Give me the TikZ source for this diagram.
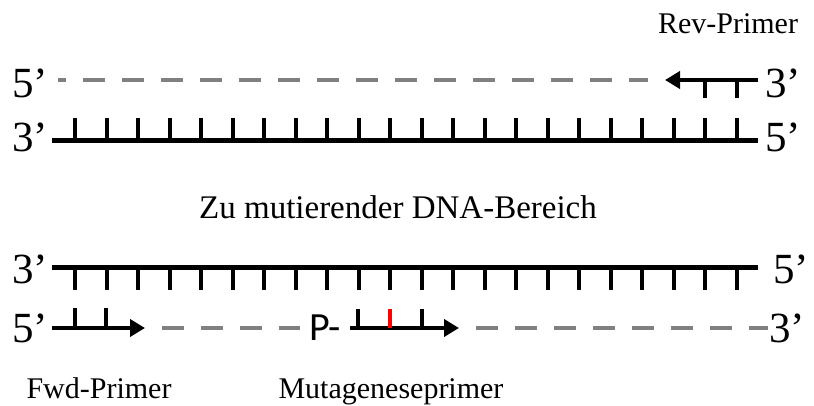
\documentclass[tikz,border=0pt]{standalone}
\usepackage{fontspec}
\setmainfont{Liberation Serif}
\newfontfamily\phosfont{Carlito}
\usetikzlibrary{arrows.meta}

\begin{document}
\begin{tikzpicture}[x=1pt, y=-1pt]
\tikzset{
    strand/.style={line width=5pt},
    newstrand/.style={line width=4.5pt, draw=gray, dash pattern=on 21.5pt off 17.5pt},
    primer/.style={line width=4.5pt, -{Triangle[length=15pt, width=17pt]}},
    basepair/.style={line width=4pt},
    endlabel/.style={inner sep=0pt, anchor=base west, font=\fontsize{43}{45}\selectfont},
    mylabel/.style={inner sep=0pt, anchor=base, font=\fontsize{30}{32}\selectfont}
}
\useasboundingbox (0,0) rectangle (814,405);

% upper half: template with reverse primer
\coordinate (topA) at (52,140);
\coordinate (topB) at (758,140);
\coordinate (newA) at (58,80);
\coordinate (newB) at (648,80);
\coordinate (revA) at (758,80);
\coordinate (revB) at (665,80);
\node[mylabel] (rev) at (728,33) {Rev-Primer};
\node[endlabel] (top5) at (12,97) {5’};
\node[endlabel] (top3) at (12,151) {3’};
\node[endlabel] (right3) at (765,97) {3’};
\node[endlabel] (right5) at (765,151) {5’};

\draw[newstrand, dash phase=14pt] (newA) -- (newB);
\draw[primer] (revA) -- (revB);
\foreach \x in {705,737}
    \draw[basepair] (\x,80) -- ++(0,18);
\draw[strand] (topA) -- (topB);
\foreach \i in {0,...,21}
    \draw[basepair] (75+31.5*\i,140) -- ++(0,-22);

\node[inner sep=0pt, anchor=base, font=\fontsize{33}{35}\selectfont] (region) at (398,218) {Zu mutierender DNA-Bereich};

% lower half: template with fwd and mutagenesis primer
\coordinate (botA) at (52,267);
\coordinate (botB) at (758,267);
\coordinate (fwdA) at (52,328);
\coordinate (fwdB) at (145,328);
\coordinate (gapA) at (162,328);
\coordinate (gapB) at (300,328);
\coordinate (mutA) at (350,328);
\coordinate (mutB) at (459,328);
\coordinate (restA) at (476,328);
\coordinate (restB) at (768,328);
\node[endlabel] (bot3) at (12,283) {3’};
\node[endlabel] (bot5) at (12,342) {5’};
\node[endlabel] (bright5) at (773,283) {5’};
\node[endlabel] (bright3) at (769,342) {3’};
\node[inner sep=0pt, anchor=base west, font=\phosfont\fontsize{40}{42}\selectfont] (phos) at (309,340) {P-};

\draw[strand] (botA) -- (botB);
\foreach \i in {0,...,21}
    \draw[basepair] (75+31.5*\i,267) -- ++(0,23);
\draw[primer] (fwdA) -- (fwdB);
\foreach \x in {75,106}
    \draw[basepair] (\x,328) -- ++(0,-20);
\draw[newstrand] (gapA) -- (gapB);
\draw[primer] (mutA) -- (mutB);
\draw[basepair] (358,328) -- ++(0,-19);
\draw[basepair, red] (390,328) -- ++(0,-19);
\draw[basepair] (422,328) -- ++(0,-19);
\draw[newstrand] (restA) -- (restB);

\node[mylabel] (fwd) at (99,398) {Fwd-Primer};
\node[mylabel] (mut) at (391,398) {Mutageneseprimer};

\end{tikzpicture}
\end{document}
